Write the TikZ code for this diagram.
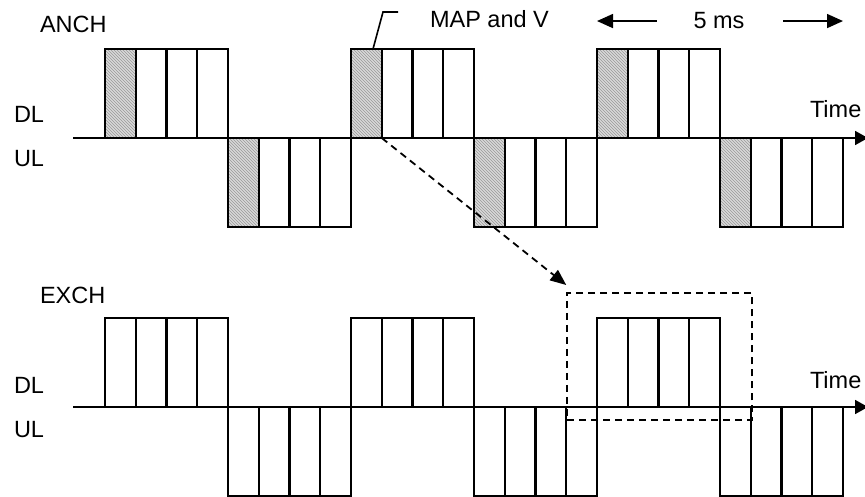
\documentclass[tikz,border=0pt]{standalone}
\usepackage{fontspec}
\setmainfont{Liberation Sans}
\usetikzlibrary{arrows.meta, patterns}
\tikzset{
  lbl/.style={font=\fontsize{23.5}{27}\selectfont, inner sep=0pt, outer sep=0pt},
  slot/.style={draw, line width=2.1pt, minimum width=30.75pt, minimum height=89pt,
    inner sep=0pt, outer sep=0pt},
  mapslot/.style={slot, preaction={fill=gray!30}, pattern=north west lines,
    pattern color=gray!80},
  axis/.style={-{Triangle[length=13pt, width=14pt]}, line width=1.8pt},
  spanArr/.style={-{Triangle[length=16pt, width=14pt]}, line width=1.6pt},
  linkArr/.style={-{Triangle[length=16pt, width=13pt]}, line width=1.8pt,
    dash pattern=on 7pt off 5pt},
  zoombox/.style={draw, line width=1.8pt, dash pattern=on 7pt off 5pt,
    inner sep=0pt, minimum width=184.5pt, minimum height=127pt},
  leader/.style={line width=1.6pt},
}

\begin{document}
\begin{tikzpicture}[x=1pt, y=-1pt]
\useasboundingbox (0,0) rectangle (865,497);

% frames: DL blocks above the axis, UL blocks below
\foreach \row/\yy/\first in {a/138/mapslot, e/407/slot} {
  \foreach \k in {0,...,5} {
    \foreach \s in {0,...,3} {
      \pgfmathsetmacro{\xx}{105+(4*\k+\s)*30.75}
      \ifodd\k \def\side{north west}\else\def\side{south west}\fi
      \ifnum\s=0 \edef\kind{\first}\else\def\kind{slot}\fi
      \node[\kind, anchor=\side] (\row-\k-\s) at (\xx,\yy) {};
    }
  }
}

\coordinate (a-from) at (73,138);
\coordinate (a-to) at (868,138);
\coordinate (e-from) at (73,407);
\coordinate (e-to) at (868,407);
\draw[axis] (a-from) -- (a-to);
\draw[axis] (e-from) -- (e-to);

\node[lbl, anchor=base west] (anch) at (40,33) {ANCH};
\node[lbl, anchor=base west] (a-dl) at (14,123) {DL};
\node[lbl, anchor=base west] (a-ul) at (14,167) {UL};
\node[lbl, anchor=base west] (a-time) at (810,118) {Time};

\node[lbl, anchor=base west] (exch) at (40,303) {EXCH};
\node[lbl, anchor=base west] (e-dl) at (14,393) {DL};
\node[lbl, anchor=base west] (e-ul) at (14,437) {UL};
\node[lbl, anchor=base west] (e-time) at (810,388) {Time};

% MAP and V callout
\node[lbl, anchor=base west] (map) at (430,28) {MAP and V};
\draw[leader] (a-2-0.north west) ++(22,0) -- ++(10,-37) -- ++(15,0);

% frame period
\node[lbl, anchor=base] (ms) at (719,29) {5 ms};
\draw[spanArr] ([xshift=-37pt]ms.west) -- (ms.west -| a-4-0.west);
\draw[spanArr] ([xshift=39pt]ms.east) -- (ms.east -| a-5-3.east);

% window of the exchange frame
\node[zoombox, anchor=north west] (zb) at (566.25,292) {};
\coordinate (zb-tip) at ([yshift=7pt]zb.north west);
\draw[linkArr] (a-2-0.south east) -- (zb-tip);

\end{tikzpicture}
\end{document}
